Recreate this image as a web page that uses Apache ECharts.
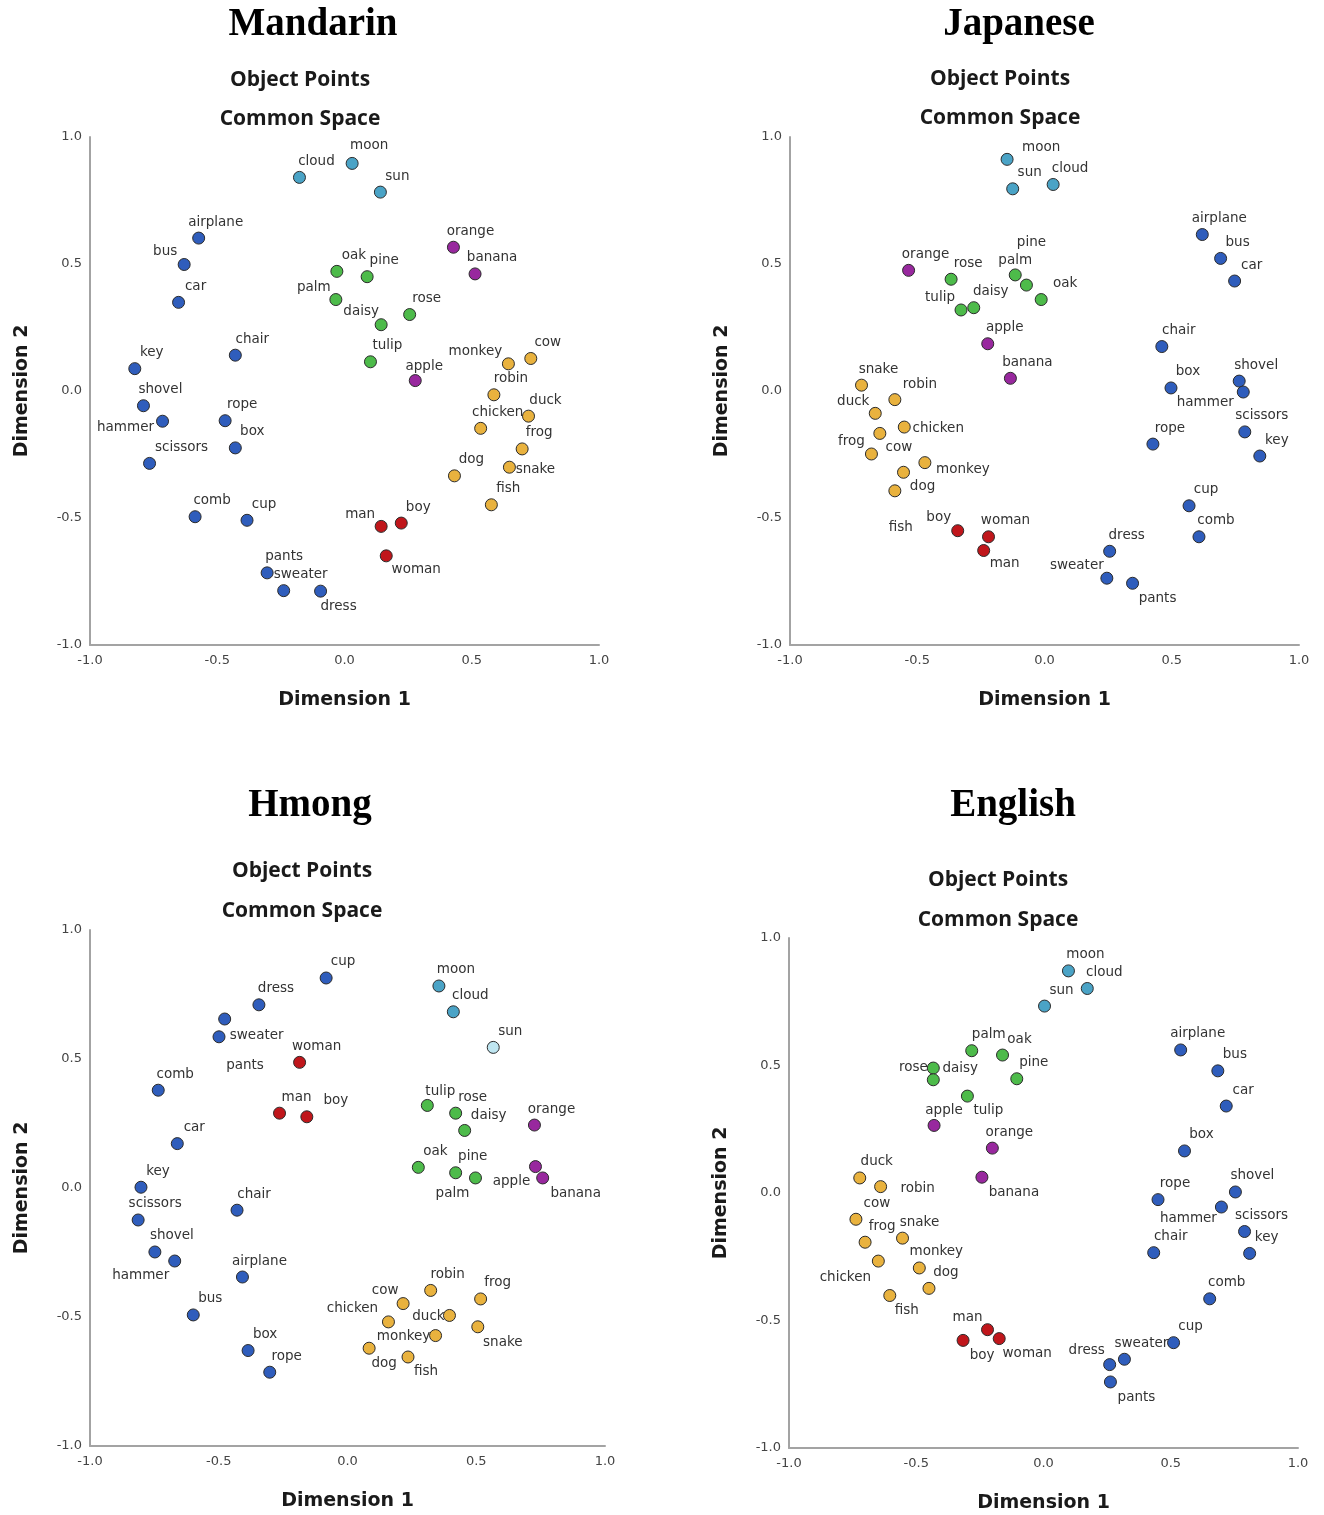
<!DOCTYPE html>
<html>
<head>
<meta charset="utf-8">
<script src="https://cdn.jsdelivr.net/npm/echarts@6/dist/echarts.min.js"></script>
<style>
html,body{margin:0;padding:0;background:#fff;}
#chart{width:1324px;height:1515px;}
</style>
</head>
<body>
<div id="chart"></div>
<script>
// ---------- word groups (colour categories) ----------
const objectWords = ['airplane','bus','car','chair','key','shovel','hammer','rope','box','scissors','comb','cup','pants','sweater','dress'];
const skyWords = ['moon','sun','cloud'];
const plantWords = ['oak','pine','palm','daisy','rose','tulip'];
const fruitWords = ['orange','banana','apple'];
const animalWords = ['monkey','cow','robin','duck','chicken','frog','dog','snake','fish'];
const personWords = ['man','boy','woman'];

// ---------- axis ticks ----------
const tickValues = [-1.0, -0.5, 0.0, 0.5, 1.0];

// ---------- Mandarin ----------
const mandarinWords = ['cloud','moon','sun','airplane','bus','car','chair','key','shovel','hammer','rope','box','scissors','comb','cup','pants','sweater','dress','oak','palm','pine','daisy','rose','tulip','orange','banana','apple','monkey','cow','robin','duck','chicken','frog','dog','snake','fish','man','boy','woman'];
const mandarinDim1 = [-0.177,0.030,0.141,-0.573,-0.630,-0.652,-0.429,-0.824,-0.790,-0.715,-0.469,-0.429,-0.766,-0.587,-0.383,-0.304,-0.239,-0.094,-0.030,-0.034,0.089,0.144,0.256,0.102,0.428,0.513,0.278,0.644,0.732,0.587,0.723,0.535,0.698,0.432,0.648,0.577,0.144,0.223,0.164];
const mandarinDim2 = [0.841,0.896,0.783,0.602,0.498,0.349,0.141,0.088,-0.058,-0.119,-0.117,-0.224,-0.285,-0.495,-0.509,-0.716,-0.786,-0.788,0.471,0.360,0.450,0.261,0.301,0.115,0.566,0.461,0.041,0.107,0.128,-0.015,-0.099,-0.147,-0.228,-0.334,-0.300,-0.448,-0.533,-0.520,-0.649];

// ---------- Japanese ----------
const japaneseWords = ['moon','sun','cloud','orange','rose','tulip','daisy','palm','pine','oak','apple','banana','snake','robin','duck','chicken','cow','frog','monkey','dog','fish','boy','woman','man','airplane','bus','car','chair','box','shovel','hammer','scissors','key','rope','cup','comb','dress','sweater','pants'];
const japaneseDim1 = [-0.147,-0.125,0.034,-0.534,-0.367,-0.328,-0.278,-0.115,-0.071,-0.013,-0.223,-0.134,-0.719,-0.588,-0.665,-0.551,-0.647,-0.680,-0.470,-0.554,-0.588,-0.341,-0.220,-0.239,0.620,0.692,0.747,0.461,0.497,0.765,0.781,0.787,0.846,0.426,0.568,0.607,0.256,0.245,0.346];
const japaneseDim2 = [0.912,0.796,0.813,0.475,0.440,0.319,0.328,0.457,0.417,0.360,0.186,0.050,0.023,-0.034,-0.088,-0.142,-0.167,-0.248,-0.282,-0.320,-0.393,-0.550,-0.574,-0.628,0.616,0.522,0.433,0.175,0.012,0.039,-0.004,-0.161,-0.256,-0.209,-0.452,-0.574,-0.631,-0.737,-0.757];

// ---------- Hmong ----------
const hmongWords = ['cup','dress','sweater','pants','woman','man','boy','comb','car','key','scissors','shovel','hammer','chair','airplane','bus','box','rope','moon','cloud','sun','tulip','rose','daisy','orange','oak','pine','palm','apple','banana','robin','frog','cow','chicken','duck','monkey','snake','dog','fish'];
const hmongDim1 = [-0.083,-0.344,-0.477,-0.499,-0.186,-0.264,-0.158,-0.735,-0.661,-0.802,-0.813,-0.748,-0.671,-0.429,-0.408,-0.599,-0.386,-0.302,0.355,0.411,0.566,0.310,0.420,0.455,0.726,0.275,0.420,0.497,0.730,0.758,0.323,0.517,0.216,0.159,0.396,0.342,0.506,0.084,0.235];
const hmongDim2 = [0.814,0.710,0.655,0.586,0.487,0.290,0.276,0.379,0.172,0.003,-0.124,-0.248,-0.283,-0.086,-0.345,-0.492,-0.630,-0.714,0.783,0.683,0.545,0.320,0.290,0.223,0.244,0.080,0.059,0.039,0.083,0.039,-0.397,-0.430,-0.448,-0.519,-0.494,-0.572,-0.538,-0.621,-0.655];

// ---------- English ----------
const englishWords = ['palm','oak','rose','daisy','pine','tulip','apple','orange','banana','duck','robin','cow','frog','snake','chicken','monkey','dog','fish','man','boy','woman','moon','cloud','sun','airplane','bus','car','box','rope','shovel','hammer','scissors','key','chair','comb','cup','sweater','dress','pants'];
const englishDim1 = [-0.282,-0.161,-0.433,-0.433,-0.105,-0.299,-0.430,-0.201,-0.242,-0.722,-0.640,-0.737,-0.701,-0.554,-0.649,-0.488,-0.450,-0.604,-0.220,-0.316,-0.174,0.098,0.172,0.004,0.539,0.685,0.718,0.554,0.450,0.754,0.699,0.790,0.810,0.433,0.653,0.511,0.318,0.260,0.263];
const englishDim2 = [0.558,0.541,0.490,0.444,0.448,0.380,0.265,0.176,0.062,0.059,0.025,-0.103,-0.193,-0.177,-0.267,-0.294,-0.374,-0.402,-0.536,-0.578,-0.571,0.871,0.802,0.733,0.561,0.479,0.341,0.165,-0.026,0.004,-0.055,-0.151,-0.237,-0.234,-0.415,-0.587,-0.652,-0.673,-0.741];

// ---------- label placement (style only; default is above-right) ----------
const defaultLabelShift = [17, -16];
const mandarinLabelShift = {moon:[17,-18], scissors:[32,-16], hammer:[-37,6], dress:[18,15], palm:[-22,-12], bus:[-19,-13], apple:[9,-14], daisy:[-20,-13], monkey:[-33,-12], snake:[26,2], man:[-21,-12], woman:[30,14]};
const japaneseLabelShift = {moon:[34,-12], tulip:[-21,-12], palm:[0,-14], pine:[5,-43], oak:[24,-16], robin:[25,-15], duck:[-22,-12], chicken:[34,1], cow:[19,14], frog:[-20,-12], monkey:[38,7], dog:[19,14], fish:[6,37], boy:[-19,-13], man:[21,13], hammer:[-38,10], sweater:[-30,-13], pants:[25,15]};
const hmongLabelShift = {sweater:[32,16], pants:[26,29], boy:[29,-16], hammer:[-34,14], tulip:[13,-14], daisy:[24,-15], palm:[-23,16], apple:[-24,15], banana:[33,16], cow:[-18,-13], chicken:[-36,-13], duck:[-21,1], monkey:[-32,1], snake:[25,16], dog:[15,15], fish:[18,15]};
const englishLabelShift = {rose:[-20,-1], daisy:[27,-11], tulip:[21,14], apple:[10,-15], banana:[32,15], robin:[37,2], cow:[21,-16], chicken:[-33,16], fish:[17,15], man:[-20,-12], boy:[19,15], woman:[28,15], hammer:[-33,11], dress:[-23,-14], pants:[26,16]};
const hmongColorOverride = {sun:'#bfe6f1'};

// ---------- styling ----------
const groupDefs = [
  {words: objectWords, color: '#2f5dbc'},
  {words: skyWords,    color: '#4aa3c6'},
  {words: plantWords,  color: '#4dbb4a'},
  {words: fruitWords,  color: '#98289e'},
  {words: animalWords, color: '#e9b23e'},
  {words: personWords, color: '#c0161b'}
];

const panels = [
  {title:'Mandarin', words:mandarinWords, d1:mandarinDim1, d2:mandarinDim2, shift:mandarinLabelShift, colors:{},
   grid:{left:90, top:137, width:509, height:508}, titleX:313, titleY:25, subX:300, sub1Y:80, sub2Y:119},
  {title:'Japanese', words:japaneseWords, d1:japaneseDim1, d2:japaneseDim2, shift:japaneseLabelShift, colors:{},
   grid:{left:790, top:137, width:509, height:508}, titleX:1019, titleY:25, subX:1000, sub1Y:79, sub2Y:118},
  {title:'Hmong', words:hmongWords, d1:hmongDim1, d2:hmongDim2, shift:hmongLabelShift, colors:hmongColorOverride,
   grid:{left:90, top:930, width:515, height:516}, titleX:310, titleY:806, subX:302, sub1Y:871, sub2Y:911},
  {title:'English', words:englishWords, d1:englishDim1, d2:englishDim2, shift:englishLabelShift, colors:{},
   grid:{left:789, top:938, width:509, height:510}, titleX:1013, titleY:806, subX:998, sub1Y:880, sub2Y:920}
];

const labelFont = 'DejaVu Sans';
const grids = [], xAxes = [], yAxes = [], series = [], graphics = [];

panels.forEach((p, i) => {
  grids.push(Object.assign({containLabel:false}, p.grid));
  const axisCommon = {
    min: tickValues[0], max: tickValues[tickValues.length-1], interval: 0.5,
    splitLine:{show:false}, axisTick:{show:false},
    axisLine:{show:true, onZero:false, lineStyle:{color:'#a3a3a3', width:2}},
    axisLabel:{color:'#444', fontSize:13, fontFamily:labelFont, formatter:(v)=>v.toFixed(1)},
    nameLocation:'middle',
    nameTextStyle:{fontFamily:labelFont, fontWeight:'bold', fontSize:19, color:'#1a1a1a'}
  };
  xAxes.push(Object.assign({}, axisCommon, {
    type:'value', gridIndex:i, name:'Dimension 1', nameGap:46,
    axisLabel:Object.assign({}, axisCommon.axisLabel, {margin:9})
  }));
  yAxes.push(Object.assign({}, axisCommon, {
    type:'value', gridIndex:i, name:'Dimension 2', nameGap:58,
    axisLabel:Object.assign({}, axisCommon.axisLabel, {margin:8})
  }));

  groupDefs.forEach(g => {
    const data = [];
    p.words.forEach((w, k) => {
      if (g.words.indexOf(w) < 0) return;
      const item = {
        name: w,
        value: [p.d1[k], p.d2[k]],
        label: {offset: p.shift[w] || defaultLabelShift}
      };
      if (p.colors[w]) item.itemStyle = {color: p.colors[w]};
      data.push(item);
    });
    series.push({
      type:'scatter', xAxisIndex:i, yAxisIndex:i,
      symbol:'circle', symbolSize:12,
      itemStyle:{color:g.color, borderColor:'#2b2b2b', borderWidth:1, opacity:1},
      label:{show:true, position:'inside', formatter:'{b}', color:'#333',
             fontSize:13.5, fontFamily:labelFont, textBorderWidth:0},
      emphasis:{disabled:true},
      data: data
    });
  });

  graphics.push({type:'text', x: p.titleX, y: p.titleY,
    style:{text:p.title, font:'bold 39px "Liberation Serif"', fill:'#000', textAlign:'center', textVerticalAlign:'middle'}});
  graphics.push({type:'text', x: p.subX, y: p.sub1Y,
    style:{text:'Object Points', font:'bold 21px "Open Sans"', fill:'#1a1a1a', textAlign:'center', textVerticalAlign:'middle'}});
  graphics.push({type:'text', x: p.subX, y: p.sub2Y,
    style:{text:'Common Space', font:'bold 21px "Open Sans"', fill:'#1a1a1a', textAlign:'center', textVerticalAlign:'middle'}});
});

const chart = echarts.init(document.getElementById('chart'), null, {renderer:'canvas'});
chart.setOption({
  animation:false,
  backgroundColor:'#ffffff',
  grid: grids,
  xAxis: xAxes,
  yAxis: yAxes,
  series: series,
  graphic: graphics
});
</script>
</body>
</html>
